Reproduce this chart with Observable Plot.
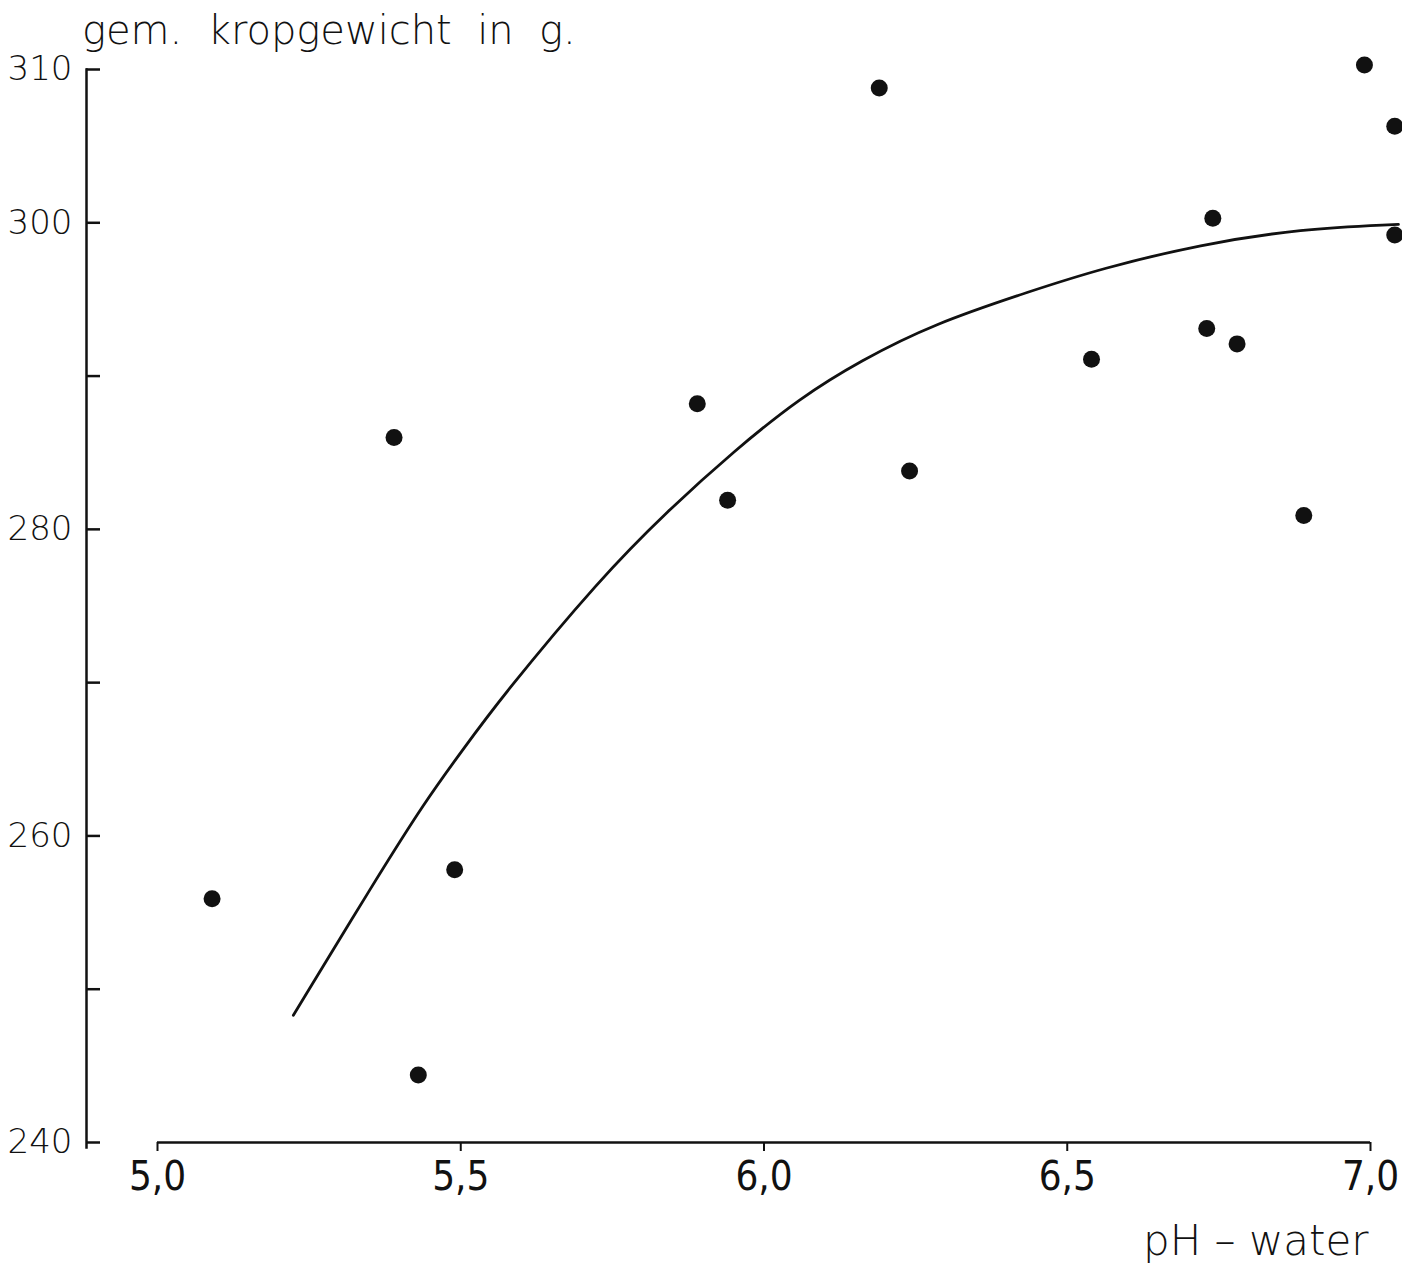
<!DOCTYPE html>
<html>
<head>
<meta charset="utf-8">
<script src="https://cdn.jsdelivr.net/npm/d3@7"></script>
<script src="https://cdn.jsdelivr.net/npm/@observablehq/plot@0.6"></script>
<style>
  html, body { margin: 0; padding: 0; background: #fff; }
  #wrap { position: relative; width: 1402px; height: 1269px; overflow: hidden; }
  #wrap svg { position: absolute; left: 0; top: 0; }
  .lbl { position: absolute; font-family: "DejaVu Sans", sans-serif; font-weight: 200; color: #111; white-space: pre; line-height: 1; }
  #ytitle { left: 82px; top: 10px; font-size: 40px; }
  #xtitle { left: 1143px; top: 1220px; font-size: 42px; }
</style>
</head>
<body>
<div id="wrap">
  <div id="ytitle" class="lbl">gem.  kropgewicht  in  g.</div>
  <div id="xtitle" class="lbl">pH – water</div>
</div>
<script>
// pH-water of the observations
const phValues = [5.09, 5.39, 5.43, 5.49, 5.89, 5.94, 6.19, 6.24, 6.54, 6.73, 6.74, 6.78, 6.89, 6.99, 7.04, 7.04];
// average crop weight (g)
const weightValues = [255.9, 286.0, 244.4, 257.8, 288.2, 281.9, 308.8, 283.8, 291.1, 293.1, 300.3, 292.1, 280.9, 310.3, 306.3, 299.2];

// fitted curve
const curvePh = [5.224, 5.356, 5.442, 5.503, 5.566, 5.730, 5.841, 5.950, 6.060, 6.159, 6.279, 6.444, 6.555, 6.720, 6.885, 7.046];
const curveWeight = [248.3, 256.9, 262.3, 265.6, 269.0, 276.8, 281.2, 285.1, 288.6, 291.0, 293.4, 295.6, 297.0, 298.6, 299.6, 299.9];

const xTicks = [5.0, 5.5, 6.0, 6.5, 7.0];
const yTicks = [240, 250, 260, 270, 280, 290, 300, 310];
const yTickLabels = [240, 260, 280, 300, 310];

const points = phValues.map((x, i) => ({x, y: weightValues[i]}));
const curve = curvePh.map((x, i) => ({x, y: curveWeight[i]}));
const xAxisLine = [{y: yTicks[0], x1: xTicks[0], x2: xTicks[xTicks.length - 1]}];

const chart = Plot.plot({
  width: 1402,
  height: 1269,
  marginLeft: 86,
  marginRight: 0,
  marginTop: 69,
  marginBottom: 127,
  style: {background: "white", color: "#111", fontFamily: "DejaVu Sans"},
  x: {domain: [5, 7], range: [157, 1370]},
  y: {domain: [240, 310], range: [1142, 69]},
  marks: [
    Plot.frame({anchor: "left", stroke: "#111", strokeWidth: 2.5, insetBottom: -5}),
    Plot.axisY({
      ticks: yTicks,
      label: null,
      tickSize: -14,
      tickPadding: 28,
      strokeWidth: 2.5,
      tickFormat: d => yTickLabels.includes(d) ? String(d) : "",
      fontSize: 34,
      fontFamily: "DejaVu Sans",
      fontWeight: 200,
      letterSpacing: 3
    }),
    Plot.ruleY(xAxisLine, {y: "y", x1: "x1", x2: "x2", stroke: "#111", strokeWidth: 2.5}),
    Plot.axisX({
      ticks: xTicks,
      label: null,
      tickSize: 9,
      tickPadding: 10,
      strokeWidth: 2,
      tickFormat: d => d.toFixed(1).replace(".", ","),
      fontSize: 40,
      fontFamily: "Liberation Sans Narrow, DejaVu Sans Condensed",
      fontWeight: 400
    }),
    Plot.line(curve, {x: "x", y: "y", stroke: "#111", strokeWidth: 2.8, curve: "basis"}),
    Plot.dot(points, {x: "x", y: "y", r: 8.5, fill: "#111", stroke: "none"})
  ]
});
document.getElementById("wrap").prepend(chart);
</script>
</body>
</html>
